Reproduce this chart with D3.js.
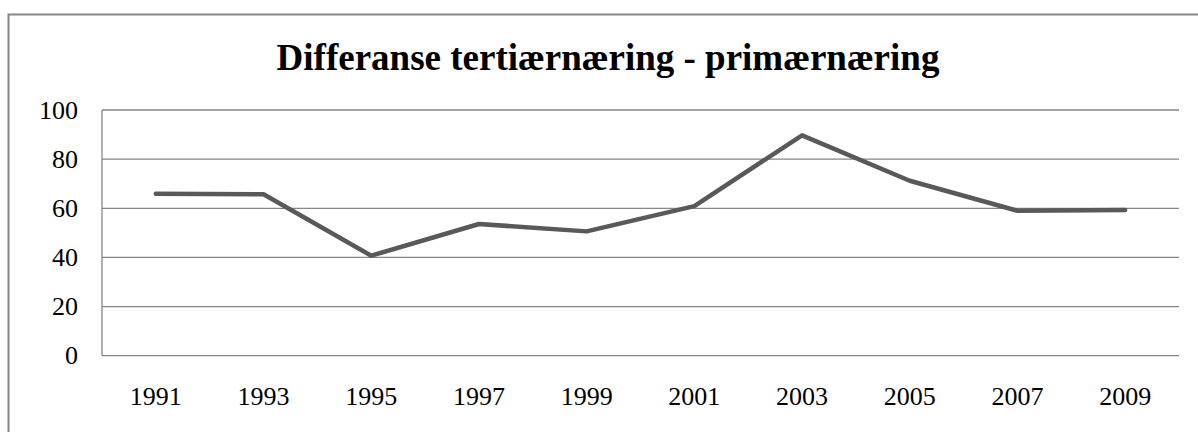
<!DOCTYPE html>
<html>
<head>
<meta charset="utf-8">
<script src="https://cdn.jsdelivr.net/npm/d3@7"></script>
<style>
  html, body { margin: 0; padding: 0; background: #fff; }
  svg { display: block; }
  .tick-label { font-family: "Liberation Serif", "Times New Roman", serif; font-size: 26px; fill: #000; }
  .title { font-family: "Liberation Serif", "Times New Roman", serif; font-size: 37px; font-weight: bold; fill: #000; }
</style>
</head>
<body>
<div id="chart"></div>
<script>
'use strict';

var title = 'Differanse tertiærnæring - primærnæring';
var years = ['1991', '1993', '1995', '1997', '1999', '2001', '2003', '2005', '2007', '2009'];
var values = [65.9, 65.7, 40.7, 53.6, 50.6, 60.9, 89.7, 71.2, 59.0, 59.3];
var yTicks = [0, 20, 40, 60, 80, 100];

var width = 1198, height = 432;
var plot = {left: 102, right: 1179, top: 110, bottom: 355.7};

var svg = d3.select('#chart')
    .append('svg')
    .attr('width', width)
    .attr('height', height);

// outer chart border (right/bottom edges fall outside the picture)
svg.append('rect')
    .attr('x', 8.5)
    .attr('y', 14.5)
    .attr('width', 1210)
    .attr('height', 440)
    .attr('fill', 'none')
    .attr('stroke', '#868686')
    .attr('stroke-width', 2);

svg.append('text')
    .attr('class', 'title')
    .attr('x', 608)
    .attr('y', 70)
    .attr('text-anchor', 'middle')
    .text(title);

var x = d3.scaleBand()
    .domain(years)
    .range([plot.left, plot.right]);

var y = d3.scaleLinear()
    .domain([0, 100])
    .range([plot.bottom, plot.top]);

// gridlines
svg.append('g')
    .selectAll('line')
    .data(yTicks)
    .enter()
    .append('line')
    .attr('x1', plot.left)
    .attr('x2', plot.right)
    .attr('y1', function (d) { return y(d); })
    .attr('y2', function (d) { return y(d); })
    .attr('stroke', '#868686')
    .attr('stroke-width', 1.3);

// vertical axis line
svg.append('line')
    .attr('x1', plot.left)
    .attr('x2', plot.left)
    .attr('y1', y(100))
    .attr('y2', y(0))
    .attr('stroke', '#868686')
    .attr('stroke-width', 1.3);

// y tick labels
svg.append('g')
    .selectAll('text')
    .data(yTicks)
    .enter()
    .append('text')
    .attr('class', 'tick-label')
    .attr('x', 78)
    .attr('y', function (d) { return y(d); })
    .attr('dy', '0.33em')
    .attr('text-anchor', 'end')
    .text(function (d) { return d; });

// x tick labels
svg.append('g')
    .selectAll('text')
    .data(years)
    .enter()
    .append('text')
    .attr('class', 'tick-label')
    .attr('x', function (d) { return x(d) + x.bandwidth() / 2; })
    .attr('y', 405)
    .attr('text-anchor', 'middle')
    .text(function (d) { return d; });

var line = d3.line()
    .x(function (d, i) { return x(years[i]) + x.bandwidth() / 2; })
    .y(function (d) { return y(d); });

svg.append('path')
    .datum(values)
    .attr('d', line)
    .attr('fill', 'none')
    .attr('stroke', '#595959')
    .attr('stroke-width', 4.5)
    .attr('stroke-linecap', 'round')
    .attr('stroke-linejoin', 'round');
</script>
</body>
</html>
